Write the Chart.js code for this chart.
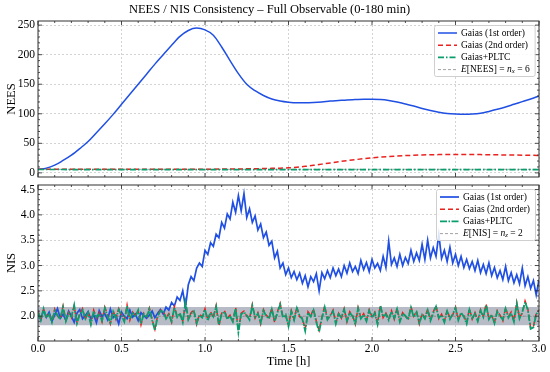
<!DOCTYPE html>
<html>
<head>
<meta charset="utf-8">
<script src="https://cdn.jsdelivr.net/npm/chart.js@4.4.1/dist/chart.umd.min.js"></script>
<style>
  html, body { margin: 0; padding: 0; background: #fff; }
  #wrap { position: relative; width: 550px; height: 372px; }
  #neesChart { position: absolute; left: 0; top: 0; }
  #nisChart { position: absolute; left: 0; top: 181px; }
</style>
</head>
<body>
<div id="wrap">
  <canvas id="neesChart" width="550" height="181"></canvas>
  <canvas id="nisChart" width="550" height="191"></canvas>
</div>
<script>
// ---- data ----
var timeTicks = [0, 0.5, 1, 1.5, 2, 2.5, 3]
var neesTicks = [0, 50, 100, 150, 200, 250]
var nisTicks = [2.0, 2.5, 3.0, 3.5, 4.0, 4.5]

// NEES, sampled every 0.05 h
var neesTime = [0,0.05,0.1,0.15,0.2,0.25,0.3,0.35,0.4,0.45,0.5,0.55,0.6,0.65,0.7,0.75,0.8,0.85,0.9,0.95,
  1,1.05,1.1,1.15,1.2,1.25,1.3,1.35,1.4,1.45,1.5,1.55,1.6,1.65,1.7,1.75,1.8,1.85,1.9,1.95,
  2,2.05,2.1,2.15,2.2,2.25,2.3,2.35,2.4,2.45,2.5,2.55,2.6,2.65,2.7,2.75,2.8,2.85,2.9,2.95,3]
var neesGaias1 = [6,8,13,21,30,41,53,68,83,99,116,133,150,167,184,200,216,231,241,245,
  242,233,213,190,168,150,139,131,125,121.5,119.5,118.5,118.5,119,120,121.5,122.5,123.5,124,124.5,
  124.5,124,122.5,120,116.5,113,109,105.5,102.5,100.5,99.5,99,99.5,101,104,107.5,111.5,116,120.5,125,130]
var neesGaias2 = [6,6,6,6,6,6,6,6,6,6,6,6,6,6,6,6,6,6.1,6.1,6.2,
  6.2,6.3,6.4,6.5,6.6,6.8,7,7.3,7.6,8,8.6,9.6,11,12.8,14.8,16.8,18.8,20.7,22.4,24,
  25.4,26.6,27.6,28.5,29.2,29.8,30.3,30.6,30.9,31,31.1,31.1,31,30.9,30.7,30.5,30.3,30.1,29.9,29.7,29.5]
var neesPltc = [5.8,5.7,5.6,5.6,5.5,5.5,5.5,5.5,5.5,5.5,5.5,5.5,5.5,5.5,5.5,5.5,5.5,5.5,5.5,5.5,
  5.5,5.5,5.5,5.5,5.5,5.5,5.5,5.5,5.5,5.5,5.5,5.5,5.5,5.5,5.5,5.5,5.5,5.5,5.5,5.5,
  5.5,5.5,5.5,5.5,5.5,5.5,5.5,5.5,5.5,5.5,5.5,5.5,5.5,5.5,5.5,5.5,5.5,5.5,5.5,5.5,5.5]
var neesExpected = 6

// NIS, one sample per minute (0..180 min)
var nisGaias1 = [2.05,1.93,2.12,1.98,2.08,1.90,2.02,2.15,1.96,2.04,
  1.92,2.10,2.00,1.88,2.06,2.13,1.95,2.01,2.09,1.94,
  2.03,1.87,2.11,1.99,2.05,1.93,2.14,1.97,2.02,1.85,
  2.08,2.00,1.95,2.12,1.98,2.04,1.91,2.07,2.01,1.96,
  2.02,2.10,1.97,2.06,2.13,2.04,2.18,2.12,2.27,2.20,
  2.38,2.31,2.50,2.18,2.62,2.78,2.70,2.95,3.05,2.98,
  3.30,3.22,3.45,3.38,3.62,3.55,3.85,3.74,4.02,3.92,
  4.25,4.05,4.38,4.08,4.42,3.95,4.12,3.85,3.98,3.70,
  3.82,3.55,3.66,3.40,3.48,3.15,3.28,2.95,3.05,2.82,
  2.95,2.76,2.88,2.72,2.85,2.65,2.80,2.58,2.78,2.68,
  2.84,2.50,2.86,2.74,2.90,2.76,2.95,2.80,2.93,2.78,
  3.00,2.85,3.05,2.88,2.98,2.84,3.10,2.92,3.06,2.88,
  3.12,2.95,3.04,2.90,3.18,2.96,3.48,3.02,3.15,2.98,
  3.22,3.00,3.16,3.04,3.30,3.08,3.25,3.10,3.42,3.12,
  3.50,3.15,3.35,3.18,3.62,3.14,3.30,3.08,3.36,3.05,
  3.22,3.00,3.18,2.96,3.12,2.94,3.08,2.90,3.10,2.86,
  3.02,2.84,3.05,2.80,2.96,2.76,2.90,2.72,2.98,2.70,
  2.86,2.66,2.82,2.64,2.95,2.60,2.78,2.55,2.70,2.42,2.72]
var nisGaias2 = [2.10,1.94,2.13,1.99,2.05,1.90,2.14,2.00,1.95,2.20,
  1.92,2.08,1.97,2.20,1.88,2.05,2.15,1.93,2.09,1.86,
  2.12,1.96,2.07,1.89,2.18,2.02,1.85,2.11,1.94,2.15,
  2.03,1.91,2.22,1.92,2.08,2.01,2.10,1.83,2.06,1.99,
  2.16,1.94,1.74,2.02,2.12,2.09,1.97,2.05,1.88,2.19,
  2.00,2.04,1.90,2.26,1.95,2.07,2.12,1.84,2.04,1.99,
  2.15,1.93,2.09,1.97,2.21,1.81,2.06,2.11,1.96,2.02,
  1.91,2.17,1.71,2.06,2.10,2.00,1.95,2.23,1.96,2.07,
  1.85,2.13,2.02,1.97,2.16,1.88,2.08,2.25,1.99,2.01,
  1.82,2.11,1.94,2.18,1.99,1.96,1.74,2.09,2.01,2.14,
  1.90,1.72,1.98,2.20,1.95,2.00,2.12,1.87,2.06,1.96,
  2.15,1.89,2.09,2.02,1.84,2.17,1.97,2.05,1.92,2.13,
  1.99,2.08,1.86,2.22,1.97,2.06,1.94,2.11,1.94,2.16,
  1.91,2.07,1.99,1.95,2.19,2.00,2.10,1.85,2.05,1.97,
  2.14,1.93,2.08,2.21,1.95,2.04,1.90,2.12,1.96,2.02,
  2.18,1.94,2.05,2.01,1.87,2.15,1.94,2.07,1.92,2.13,
  2.00,2.24,1.96,2.01,1.88,2.11,2.02,1.91,2.17,1.99,
  2.08,1.91,2.27,1.97,2.06,2.30,2.14,1.77,1.80,2.06,2.12]
var nisPltc = [2.08,1.92,2.15,1.97,2.04,1.88,2.11,2.02,1.94,2.18,
  1.90,2.06,1.99,2.22,1.86,2.03,2.12,1.95,2.07,1.84,
  2.10,1.98,2.05,1.91,2.16,2.00,1.87,2.09,1.96,2.13,
  2.01,1.89,2.20,1.94,2.06,1.99,2.12,1.85,2.04,1.97,
  2.14,1.92,1.72,2.00,2.10,2.11,1.95,2.03,1.90,2.17,
  1.98,2.06,1.88,2.28,1.93,2.05,2.10,1.86,2.02,1.97,
  2.13,1.91,2.07,1.99,2.19,1.83,2.04,2.09,1.94,2.00,
  1.89,2.15,1.68,2.04,2.08,2.02,1.93,2.21,1.98,2.05,
  1.87,2.11,2.00,1.95,2.14,1.90,2.06,2.23,1.97,2.03,
  1.80,2.09,1.92,2.16,2.01,1.94,1.71,2.07,1.99,2.12,
  1.88,1.69,1.96,2.18,1.93,2.02,2.10,1.85,2.04,1.98,
  2.13,1.91,2.07,2.00,1.86,2.15,1.95,2.03,1.90,2.11,
  1.97,2.06,1.84,2.20,1.99,2.04,1.92,2.09,1.96,2.14,
  1.89,2.05,2.01,1.93,2.17,1.98,2.08,1.87,2.03,1.95,
  2.12,1.91,2.06,2.19,1.97,2.02,1.88,2.10,1.94,2.04,
  2.16,1.92,2.07,1.99,1.85,2.13,1.96,2.05,1.90,2.11,
  1.98,2.22,1.94,2.03,1.86,2.09,2.00,1.93,2.15,1.97,
  2.06,1.89,2.25,1.95,2.08,2.28,2.12,1.75,1.78,2.04,2.10]
var nisExpected = 2
var nisBand = [1.82, 2.18]

// ---- style ----
var blue = '#1f4fe3'
var red = '#e8231f'
var green = '#0a9e6e'
var serif = 'Liberation Serif'

function pairs(xs, ys) {
  return ys.map(function (y, i) { return { x: xs[i], y: y } })
}
var nisTime = nisGaias1.map(function (v, i) { return i / 60 })

// inward ticks on all four sides + frame
function marks(scale, minor, draw) {
  var major = scale.ticks.map(function (t) { return t.value })
  var k0 = Math.ceil(scale.min / minor - 1e-6), k1 = Math.floor(scale.max / minor + 1e-6)
  for (var k = k0; k <= k1; k++) {
    var v = k * minor
    var isMajor = major.some(function (m) { return Math.abs(m - v) < minor / 10 })
    draw(v, isMajor ? 4 : 2)
  }
}
var frameTicks = {
  id: 'frameTicks',
  afterDatasetsDraw: function (chart, args, opts) {
    var ctx = chart.ctx, a = chart.chartArea
    var xs = chart.scales.x, ys = chart.scales.y
    ctx.save()
    ctx.strokeStyle = '#222'
    ctx.lineWidth = 0.8
    ctx.beginPath()
    marks(xs, opts.xMinor, function (v, len) {
      var p = xs.getPixelForValue(v)
      ctx.moveTo(p, a.bottom); ctx.lineTo(p, a.bottom - len)
      ctx.moveTo(p, a.top); ctx.lineTo(p, a.top + len)
    })
    marks(ys, opts.yMinor, function (v, len) {
      var p = ys.getPixelForValue(v)
      ctx.moveTo(a.left, p); ctx.lineTo(a.left + len, p)
      ctx.moveTo(a.right, p); ctx.lineTo(a.right - len, p)
    })
    ctx.stroke()
    ctx.lineWidth = 1
    ctx.strokeStyle = '#333'
    ctx.strokeRect(a.left, a.top, a.right - a.left, a.bottom - a.top)
    ctx.restore()
  }
}

// legend with italic / subscript pieces, drawn above the data
var mathLegend = {
  id: 'mathLegend',
  afterDraw: function (chart, args, opts) {
    var ctx = chart.ctx, a = chart.chartArea
    var fs = 9.5
    function font(p) { return (p.i ? 'italic ' : '') + (p.sub ? fs * 0.72 : fs) + 'px "' + serif + '"' }
    function width(parts) {
      var w = 0
      parts.forEach(function (p) { ctx.font = font(p); w += ctx.measureText(p.t).width })
      return w
    }
    ctx.save()
    var textW = Math.max.apply(null, opts.items.map(function (it) { return width(it.parts) }))
    var bw = 27 + textW + 5, bh = 51
    var bx = Math.round(a.right - 4 - bw), by = Math.round(a.top + 4)
    ctx.fillStyle = 'rgba(255,255,255,0.85)'
    ctx.strokeStyle = '#cfcfcf'
    ctx.lineWidth = 1
    ctx.beginPath()
    if (ctx.roundRect) ctx.roundRect(bx + 0.5, by + 0.5, bw, bh, 2)
    else ctx.rect(bx + 0.5, by + 0.5, bw, bh)
    ctx.fill(); ctx.stroke()
    opts.items.forEach(function (it, i) {
      var ds = chart.data.datasets[it.ds]
      var y = by + 8 + i * 12.2
      ctx.beginPath()
      ctx.strokeStyle = ds.borderColor
      ctx.lineWidth = Math.max(ds.borderWidth, 0.8)
      ctx.setLineDash(ds.borderDash || [])
      ctx.moveTo(bx + 4, y); ctx.lineTo(bx + 23, y)
      ctx.stroke()
      ctx.setLineDash([])
      var x = bx + 27
      ctx.fillStyle = '#000'
      ctx.textBaseline = 'middle'
      it.parts.forEach(function (p) {
        ctx.font = font(p)
        ctx.fillText(p.t, x, y + (p.sub ? 2 : 0))
        x += ctx.measureText(p.t).width
      })
    })
    ctx.restore()
  }
}

function makeOptions(cfg) {
  return {
    responsive: false,
    animation: false,
    devicePixelRatio: 1,
    layout: { padding: cfg.padding },
    elements: { point: { radius: 0 }, line: { tension: 0 } },
    plugins: {
      legend: { display: false },
      tooltip: { enabled: false },
      title: cfg.title,
      frameTicks: { xMinor: 0.1, yMinor: cfg.yMinor },
      mathLegend: { items: cfg.legend }
    },
    scales: {
      x: {
        type: 'linear', min: 0, max: 3,
        afterBuildTicks: function (s) { s.ticks = timeTicks.map(function (v) { return { value: v } }) },
        afterFit: function (s) { s.height = cfg.xHeight; s.paddingLeft = 0; s.paddingRight = 0 },
        grid: { color: 'rgba(0,0,0,0.22)', lineWidth: 0.8, drawTicks: false },
        border: { display: false, dash: [2, 2] },
        ticks: {
          display: cfg.xLabels, padding: 1, color: '#000',
          font: { family: serif, size: 11.5 },
          callback: function (v) { return v.toFixed(1) }
        },
        title: {
          display: cfg.xLabels, text: 'Time [h]', color: '#000',
          font: { family: serif, size: 12.5 }, padding: { top: 0, bottom: 3 }
        }
      },
      y: {
        min: cfg.yMin, max: cfg.yMax,
        afterBuildTicks: function (s) { s.ticks = cfg.yTicks.map(function (v) { return { value: v } }) },
        afterFit: function (s) { s.width = 38; s.paddingTop = 0; s.paddingBottom = 0 },
        grid: { color: 'rgba(0,0,0,0.22)', lineWidth: 0.8, drawTicks: false },
        border: { display: false, dash: [2, 2] },
        ticks: {
          padding: 3, color: '#000',
          font: { family: serif, size: 11.5 },
          callback: cfg.yFormat
        },
        title: {
          display: true, text: cfg.yTitle, color: '#000',
          font: { family: serif, size: 12.5 }, padding: { top: 4, bottom: 0 }
        }
      }
    }
  }
}

Chart.register(frameTicks, mathLegend)

new Chart(document.getElementById('neesChart'), {
  type: 'line',
  data: {
    datasets: [
      { label: 'Gaias (1st order)', data: pairs(neesTime, neesGaias1), borderColor: blue, borderWidth: 1.5, cubicInterpolationMode: 'monotone', order: 2 },
      { label: 'Gaias (2nd order)', data: pairs(neesTime, neesGaias2), borderColor: red, borderWidth: 1.5, borderDash: [5, 3], cubicInterpolationMode: 'monotone', order: 1 },
      { label: 'Gaias+PLTC', data: pairs(neesTime, neesPltc), borderColor: green, borderWidth: 1.6, borderDash: [6, 2, 1.5, 2], order: 0 },
      { label: 'E[NEES]', data: [{ x: 0, y: neesExpected }, { x: 3, y: neesExpected }], borderColor: '#8a8a8a', borderWidth: 0.8, borderDash: [3, 2], order: 3 }
    ]
  },
  options: makeOptions({
    padding: { left: 0, right: 11, top: 0, bottom: 0 },
    title: {
      display: true, text: 'NEES / NIS Consistency \u2013 Full Observable (0-180 min)', color: '#000',
      font: { family: serif, size: 12.5, weight: 'normal' }, padding: { top: 2, bottom: 4 }
    },
    xLabels: false, xHeight: 4,
    yMin: -7, yMax: 257, yTicks: neesTicks, yMinor: 10, yTitle: 'NEES',
    yFormat: function (v) { return String(v) },
    legend: [
      { ds: 0, parts: [{ t: 'Gaias (1st order)' }] },
      { ds: 1, parts: [{ t: 'Gaias (2nd order)' }] },
      { ds: 2, parts: [{ t: 'Gaias+PLTC' }] },
      { ds: 3, parts: [{ t: 'E', i: true }, { t: '[NEES] = ' }, { t: 'n', i: true }, { t: 'x', i: true, sub: true }, { t: ' = 6' }] }
    ]
  })
})

new Chart(document.getElementById('nisChart'), {
  type: 'line',
  data: {
    datasets: [
      { label: 'Gaias (1st order)', data: pairs(nisTime, nisGaias1), borderColor: blue, borderWidth: 1.7, order: 3 },
      { label: 'Gaias (2nd order)', data: pairs(nisTime, nisGaias2), borderColor: red, borderWidth: 1.5, borderDash: [5, 3], order: 2 },
      { label: 'Gaias+PLTC', data: pairs(nisTime, nisPltc), borderColor: green, borderWidth: 1.8, borderDash: [7, 1.5, 1.5, 1.5], order: 0 },
      { label: 'E[NIS]', data: [{ x: 0, y: nisExpected }, { x: 3, y: nisExpected }], borderColor: '#8a8a8a', borderWidth: 0.8, borderDash: [3, 2], order: 4 },
      { label: 'band', data: [{ x: 0, y: nisBand[1] }, { x: 3, y: nisBand[1] }], fill: { value: nisBand[0] }, backgroundColor: 'rgba(112,120,142,0.5)', borderWidth: 0, order: 5 }
    ]
  },
  options: makeOptions({
    padding: { left: 0, right: 11, top: 4, bottom: 0 },
    title: { display: false },
    xLabels: true, xHeight: 31,
    yMin: 1.51, yMax: 4.59, yTicks: nisTicks, yMinor: 0.1, yTitle: 'NIS',
    yFormat: function (v) { return v.toFixed(1) },
    legend: [
      { ds: 0, parts: [{ t: 'Gaias (1st order)' }] },
      { ds: 1, parts: [{ t: 'Gaias (2nd order)' }] },
      { ds: 2, parts: [{ t: 'Gaias+PLTC' }] },
      { ds: 3, parts: [{ t: 'E', i: true }, { t: '[NIS] = ' }, { t: 'n', i: true }, { t: 'z', i: true, sub: true }, { t: ' = 2' }] }
    ]
  })
})
</script>
</body>
</html>
